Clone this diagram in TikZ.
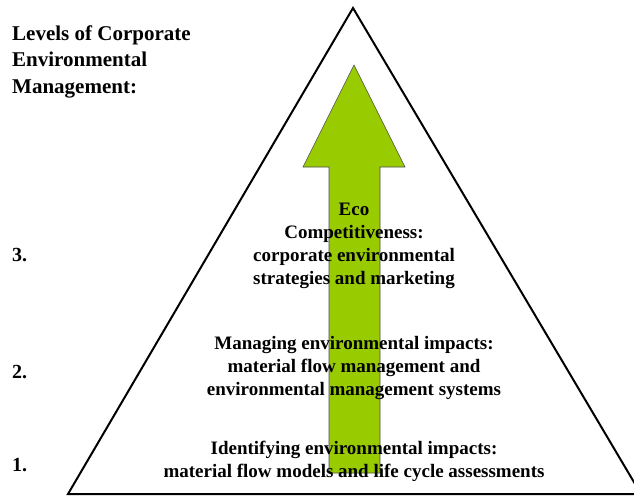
\documentclass[tikz,border=0pt]{standalone}
\usepackage{fontspec}
\setmainfont{Liberation Serif}
\definecolor{arrowgreen}{HTML}{99CC00}
\begin{document}
\begin{tikzpicture}[x=1pt,y=-1pt,
    level/.style={align=center,inner sep=0pt,font=\bfseries\fontsize{19}{23}\selectfont},
    num/.style={anchor=west,inner sep=0pt,font=\bfseries\fontsize{20}{23}\selectfont}]
  \useasboundingbox (0,0) rectangle (634,495);
  \begin{scope}
    \clip (0,0) rectangle (634,495);
    \draw[line width=2pt] (353,8) -- (641,494) -- (68,494) -- cycle;
  \end{scope}
  \filldraw[fill=arrowgreen,draw=gray!60!black,line width=0.6pt]
    (354,65) -- (405,167) -- (380,167) -- (380,473) -- (329,473) -- (329,167) -- (303,167) -- cycle;

  \node[anchor=west,align=left,inner sep=0pt,font=\bfseries\fontsize{21}{26.5}\selectfont] (title) at (12,61.5)
    {Levels of Corporate\\Environmental\\Management:};
  \node[level] (lev3) at (354,246) {Eco\\Competitiveness:\\corporate environmental\\strategies and marketing};
  \node[level] (lev2) at (354,368) {Managing environmental impacts:\\material flow management and\\environmental management systems};
  \node[level] (lev1) at (354,461) {Identifying environmental impacts:\\material flow models and life cycle assessments};
  \node[num] (n3) at (12,255) {3.};
  \node[num] (n2) at (12,372) {2.};
  \node[num] (n1) at (12,465) {1.};
\end{tikzpicture}
\end{document}
